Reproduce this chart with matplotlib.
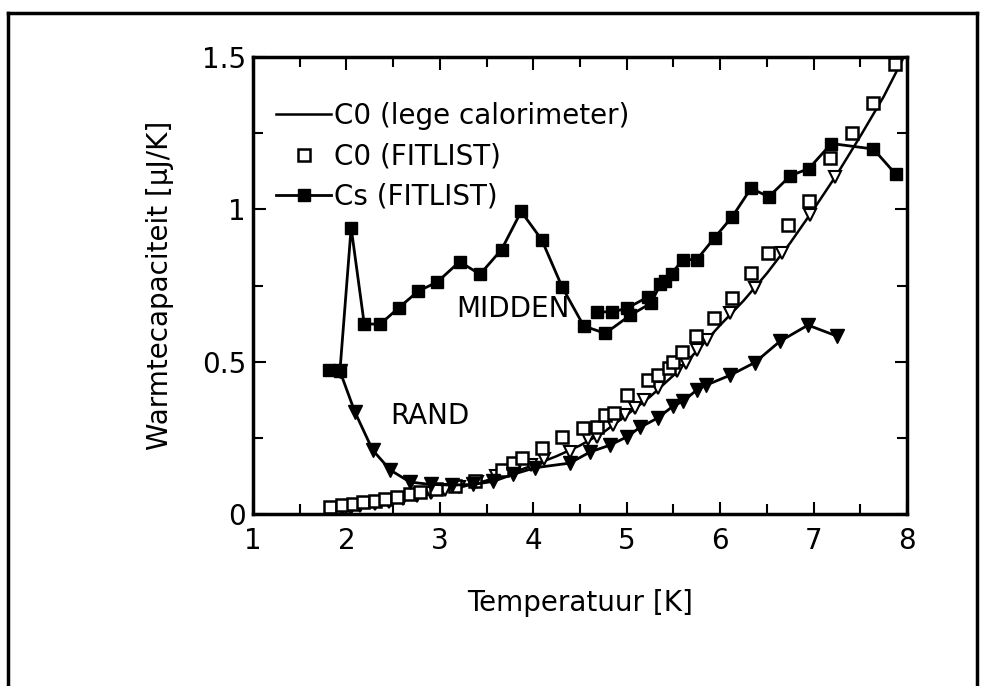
import numpy as np
import matplotlib
matplotlib.use("Agg")
import matplotlib.pyplot as plt
from matplotlib.lines import Line2D

# ---------------- data ----------------
# Cs (FITLIST), MIDDEN, main run
cs_x = [1.81, 1.93, 2.05, 2.19, 2.36, 2.56, 2.77, 2.97, 3.21, 3.43, 3.66, 3.87,
        4.09, 4.31, 4.54, 4.77, 5.04, 5.26, 5.36, 5.41, 5.48, 5.60, 5.75, 5.94,
        6.13, 6.33, 6.52, 6.75, 6.95, 7.19, 7.64, 7.88]
cs_y = [0.474, 0.469, 0.940, 0.624, 0.623, 0.677, 0.732, 0.761, 0.828, 0.787, 0.868, 0.993,
        0.900, 0.744, 0.617, 0.593, 0.653, 0.692, 0.754, 0.765, 0.789, 0.835, 0.835, 0.907,
        0.976, 1.069, 1.041, 1.110, 1.134, 1.216, 1.198, 1.115]
# Cs (FITLIST), MIDDEN, short second run
cs2_x = [4.68, 4.84, 5.00, 5.23]
cs2_y = [0.664, 0.663, 0.675, 0.713]

# RAND (filled triangles)
rand_x = [1.93, 2.09, 2.28, 2.47, 2.68, 2.90, 3.13, 3.35, 3.57, 3.78, 4.02, 4.39,
          4.61, 4.82, 5.00, 5.14, 5.33, 5.50, 5.60, 5.75, 5.85, 6.11, 6.37, 6.64,
          6.94, 7.25]
rand_y = [0.469, 0.335, 0.210, 0.144, 0.105, 0.097, 0.095, 0.097, 0.107, 0.130, 0.152, 0.167,
          0.204, 0.226, 0.253, 0.284, 0.315, 0.355, 0.370, 0.407, 0.423, 0.456, 0.497, 0.567,
          0.620, 0.584]

# C0 (lege calorimeter) curve
c0_x = [1.85, 2.00, 2.25, 2.50, 2.75, 3.00, 3.25, 3.50, 3.75, 4.00, 4.25, 4.50,
        4.75, 5.00, 5.25, 5.50, 5.75, 6.00, 6.25, 6.50, 6.75, 7.00, 7.25, 7.50,
        7.75, 7.95]
c0_y = [0.010, 0.015, 0.027, 0.040, 0.055, 0.072, 0.090, 0.110, 0.133, 0.160, 0.190, 0.225,
        0.268, 0.325, 0.385, 0.455, 0.535, 0.620, 0.700, 0.790, 0.890, 1.000, 1.115, 1.240,
        1.370, 1.490]

# C0 (FITLIST), open squares
c0f_x = [1.82, 1.95, 2.07, 2.18, 2.30, 2.41, 2.54, 2.68, 2.79, 2.96, 3.16, 3.38,
         3.66, 3.78, 3.88, 4.09, 4.31, 4.53, 4.68, 4.77, 4.86, 5.00, 5.23, 5.33,
         5.45, 5.49, 5.59, 5.74, 5.93, 6.13, 6.33, 6.51, 6.73, 6.95, 7.18, 7.41,
         7.64, 7.87]
c0f_y = [0.022, 0.029, 0.033, 0.039, 0.043, 0.050, 0.057, 0.067, 0.072, 0.082, 0.092, 0.108,
         0.144, 0.167, 0.184, 0.217, 0.253, 0.282, 0.287, 0.325, 0.330, 0.390, 0.440, 0.456,
         0.480, 0.500, 0.532, 0.583, 0.643, 0.710, 0.790, 0.857, 0.948, 1.028, 1.170, 1.252,
         1.350, 1.477]

# open triangles on the C0 curve (no legend entry)
ot_x = [1.85, 1.95, 2.05, 2.15, 2.30, 2.45, 2.60, 2.75, 2.90, 3.05, 3.20, 3.40,
        3.60, 3.79, 3.97, 4.11, 4.39, 4.58, 4.68, 4.85, 4.98, 5.09, 5.18, 5.33,
        5.54, 5.63, 5.75, 5.86, 6.11, 6.37, 6.66, 6.96, 7.23]
ot_y = [0.012, 0.015, 0.020, 0.025, 0.032, 0.040, 0.050, 0.058, 0.068, 0.078, 0.090, 0.105,
        0.125, 0.134, 0.162, 0.180, 0.204, 0.245, 0.253, 0.292, 0.325, 0.348, 0.374, 0.413,
        0.468, 0.495, 0.538, 0.571, 0.660, 0.742, 0.857, 0.980, 1.106]

# ---------------- figure ----------------
plt.rcParams['font.family'] = ['DejaVu Sans']
plt.rcParams['font.size'] = 20

fig = plt.figure(figsize=(9.9, 6.86), dpi=100)
ax = fig.add_axes([0.2556, 0.2507, 0.6606, 0.6662])

ax.plot(c0_x, c0_y, '-', color='black', lw=1.8, label='C0 (lege calorimeter)')
ax.plot(ot_x, ot_y, 'v', mfc='white', mec='black', mew=1.5, ms=9, ls='none')
ax.plot(c0f_x, c0f_y, 's', mfc='white', mec='black', mew=1.8, ms=9, ls='none',
        label='C0 (FITLIST)')
ax.plot(rand_x, rand_y, 'v-', color='black', lw=2, ms=10)
ax.plot(cs2_x, cs2_y, 's-', color='black', lw=2, ms=9)
ax.plot(cs_x, cs_y, 's-', color='black', lw=2, ms=9, label='Cs (FITLIST)')

ax.text(3.17, 0.673, 'MIDDEN', ha='left', va='center')
ax.text(2.47, 0.323, 'RAND', ha='left', va='center')

ax.set_xlim(1, 8)
ax.set_ylim(0, 1.5)
ax.set_xticks([1, 2, 3, 4, 5, 6, 7, 8])
ax.set_xticks(np.arange(1.5, 8, 1.0), minor=True)
ax.set_yticks([0, 0.5, 1, 1.5])
ax.set_yticklabels(['0', '0.5', '1', '1.5'])
ax.set_yticks([0.25, 0.75, 1.25], minor=True)
ax.tick_params(which='both', direction='in', top=True, right=True, width=1.5)
ax.tick_params(which='major', length=9)
ax.tick_params(which='minor', length=7)
ax.tick_params(axis='x', pad=9)
ax.tick_params(axis='y', pad=5)
for s in ax.spines.values():
    s.set_linewidth(2.5)

ax.set_xlabel('Temperatuur [K]')
ax.set_ylabel('Warmtecapaciteit [µJ/K]')
ax.xaxis.set_label_coords(0.5, -0.165)
ax.yaxis.set_label_coords(-0.121, 0.5)

ax.legend(loc='upper left', bbox_to_anchor=(0.035, 0.902), frameon=False,
          handlelength=2.0, handletextpad=0.08, labelspacing=0.45,
          borderpad=0, borderaxespad=0, numpoints=1)

# outer frame of the scanned figure
for xs, ys in [([0.008, 0.008], [0.0, 0.981]),
               ([0.008, 0.987], [0.981, 0.981]),
               ([0.987, 0.987], [0.0, 0.981])]:
    fig.add_artist(Line2D(xs, ys, color='black', lw=2.5, transform=fig.transFigure))

fig.savefig('out.png', dpi=100)
